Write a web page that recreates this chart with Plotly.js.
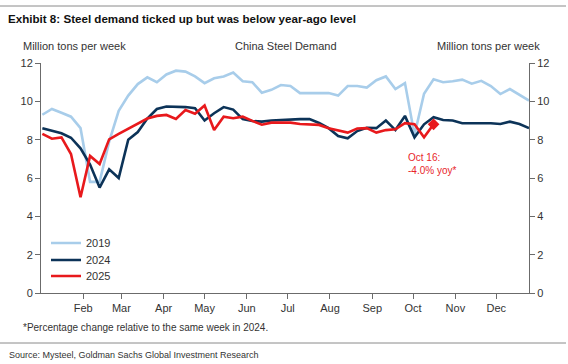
<!DOCTYPE html>
<html>
<head>
<meta charset="utf-8">
<script src="https://cdn.plot.ly/plotly-3.0.1.min.js"></script>
<style>html,body{margin:0;padding:0;background:#fff;}#chart{width:568px;height:364px;}</style>
</head>
<body>
<div id="chart"></div>
<script>
// Weekly dates (2025 calendar, first week Jan 2)
const startDate = '2025-01-02';
const weeks = 52;

const demand2019 = [9.3, 9.6, 9.4, 9.2, 8.6, 5.8, 5.8, 7.9, 9.5, 10.3,
  10.9, 11.25, 11.0, 11.4, 11.6, 11.55, 11.3, 10.95, 11.2, 11.3,
  11.5, 11.05, 11.0, 10.45, 10.6, 10.85, 10.8, 10.43, 10.43, 10.43,
  10.43, 10.3, 10.8, 10.8, 10.72, 11.1, 11.3, 10.64, 10.95, 8.25,
  10.4, 11.15, 11.0, 11.05, 11.13, 10.92, 11.07, 10.8, 10.38, 10.64,
  10.34, 10.04];

const demand2024 = [8.6, 8.48, 8.33, 8.1, 7.55, 6.7, 5.5, 6.45, 6.0, 8.0,
  8.4, 9.1, 9.6, 9.73, 9.73, 9.7, 9.64, 9.0, 9.38, 9.7,
  9.57, 9.07, 8.97, 8.94, 9.0, 9.03, 9.03, 9.07, 9.07, 8.87,
  8.6, 8.19, 8.07, 8.45, 8.62, 8.6, 9.0, 8.5, 9.24, 8.12,
  8.8, 9.17, 9.03, 9.0, 8.86, 8.86, 8.89, 8.86, 8.82, 8.94,
  8.82, 8.6];

const demand2025 = [8.3, 8.05, 8.12, 7.25, 5.0, 7.15, 6.73, 8.02, 8.3, 8.58,
  8.85, 9.1, 9.24, 9.29, 9.08, 9.55, 9.35, 9.78, 8.5, 9.2,
  9.12, 9.2, 8.98, 8.78, 8.89, 8.9, 8.89, 8.82, 8.8, 8.77,
  8.6, 8.5, 8.37, 8.58, 8.6, 8.37, 8.5, 8.54, 8.86, 8.8,
  8.12, 8.8];

const seriesNames = ['2019', '2024', '2025'];
const monthTickVals = ['2025-02-01','2025-03-01','2025-04-01','2025-05-01','2025-06-01','2025-07-01','2025-08-01','2025-09-01','2025-10-01','2025-11-01','2025-12-01'];
const monthTickText = ['Feb','Mar','Apr','May','Jun','Jul','Aug','Sep','Oct','Nov','Dec'];
const yTicks = [0, 2, 4, 6, 8, 10, 12];

function weekDates(n) {
  const out = [];
  const d0 = new Date(startDate + 'T00:00:00Z');
  for (let i = 0; i < n; i++) {
    const d = new Date(d0.getTime() + i * 7 * 86400000);
    out.push(d.toISOString().slice(0, 10));
  }
  return out;
}
const dates = weekDates(weeks);
const dates2025 = dates.slice(0, demand2025.length);
const lastDate = dates2025[dates2025.length - 1];
const lastVal = demand2025[demand2025.length - 1];

const traces = [
  {x: dates, y: demand2019, name: seriesNames[0], type: 'scatter', mode: 'lines', legend: 'legend',
   line: {color: '#a8cdea', width: 2.6}, hoverinfo: 'skip'},
  {x: dates, y: demand2024, name: seriesNames[1], type: 'scatter', mode: 'lines', legend: 'legend2',
   line: {color: '#0c3358', width: 2.6}, hoverinfo: 'skip'},
  {x: dates2025, y: demand2025, name: seriesNames[2], type: 'scatter', mode: 'lines', legend: 'legend3',
   line: {color: '#e8191c', width: 2.6}, hoverinfo: 'skip'},
  {x: [lastDate], y: [lastVal], type: 'scatter', mode: 'markers', showlegend: false,
   marker: {symbol: 'diamond', size: 9, color: '#e8191c'}, hoverinfo: 'skip'},
  {x: [lastDate], y: [lastVal], type: 'scatter', mode: 'markers', showlegend: false,
   yaxis: 'y2', marker: {size: 0, opacity: 0}, hoverinfo: 'skip'}
];

const axisCol = '#6b6b6b';
const tickFont = {family: 'Liberation Sans, Arial, sans-serif', size: 11, color: '#333'};
const L = 41, R = 39, T = 63, B = 71;
const W = 568, H = 364;
const pw = W - L - R, ph = H - T - B;
const px = v => (v - L) / pw;
const py = v => (H - B - v) / ph;

const legendFont = {family: 'Liberation Sans, Arial, sans-serif', size: 11, color: '#333'};
function legendAt(yCenter) {
  return {x: px(46), y: py(yCenter), xanchor: 'left', yanchor: 'middle',
    bgcolor: 'rgba(0,0,0,0)', font: legendFont};
}

const layout = {
  width: W, height: H,
  margin: {l: L, r: R, t: T, b: B},
  paper_bgcolor: '#fff', plot_bgcolor: '#fff',
  showlegend: true,
  title: {text: '<b>Exhibit 8: Steel demand ticked up but was below year-ago level</b>',
    xref: 'container', yref: 'container', x: 8 / W, y: 1 - 19 / H,
    xanchor: 'left', yanchor: 'middle',
    font: {family: 'Liberation Sans, Arial, sans-serif', size: 11.6, color: '#111'}},
  xaxis: {type: 'date', range: ['2025-01-01', '2025-12-25'],
    tickvals: monthTickVals, ticktext: monthTickText,
    ticks: 'outside', ticklen: 5, tickcolor: axisCol, tickwidth: 1,
    showline: true, linecolor: axisCol, linewidth: 1,
    showgrid: false, zeroline: false, tickfont: tickFont, fixedrange: true},
  yaxis: {range: [0, 12], tickvals: yTicks, ticks: 'outside', ticklen: 5,
    tickcolor: axisCol, showline: true, linecolor: axisCol, linewidth: 1,
    showgrid: false, zeroline: false, tickfont: tickFont, fixedrange: true},
  yaxis2: {range: [0, 12], tickvals: yTicks, ticks: 'outside', ticklen: 5,
    tickcolor: axisCol, showline: true, linecolor: axisCol, linewidth: 1,
    showgrid: false, zeroline: false, tickfont: tickFont, overlaying: 'y',
    side: 'right', fixedrange: true},
  legend: legendAt(243),
  legend2: legendAt(260),
  legend3: legendAt(276),
  shapes: [
    {type: 'line', xref: 'paper', yref: 'paper', x0: px(0), x1: px(566), y0: py(6), y1: py(6),
     line: {color: '#8a8a8a', width: 1}},
    {type: 'line', xref: 'paper', yref: 'paper', x0: px(0), x1: px(566), y0: py(343), y1: py(343),
     line: {color: '#8a8a8a', width: 1}}
  ],
  annotations: [
    {text: 'Million tons per week', xref: 'paper', yref: 'paper', x: px(74), y: py(46),
     xanchor: 'center', yanchor: 'middle', showarrow: false,
     font: {family: 'Liberation Sans, Arial, sans-serif', size: 11, color: '#333'}},
    {text: 'China Steel Demand', xref: 'paper', yref: 'paper', x: px(286), y: py(46),
     xanchor: 'center', yanchor: 'middle', showarrow: false,
     font: {family: 'Liberation Sans, Arial, sans-serif', size: 11, color: '#333'}},
    {text: 'Million tons per week', xref: 'paper', yref: 'paper', x: px(488), y: py(46),
     xanchor: 'center', yanchor: 'middle', showarrow: false,
     font: {family: 'Liberation Sans, Arial, sans-serif', size: 11, color: '#333'}},
    {text: 'Oct 16:<br>-4.0% yoy*', xref: 'x', yref: 'y', x: '2025-09-26', y: 6.75,
     xanchor: 'left', yanchor: 'middle', align: 'left', showarrow: false,
     font: {family: 'Liberation Sans, Arial, sans-serif', size: 10, color: '#e8262a'}},
    {text: '*Percentage change relative to the same week in 2024.', xref: 'paper', yref: 'paper',
     x: px(21), y: py(327), xanchor: 'left', yanchor: 'middle', showarrow: false,
     font: {family: 'Liberation Sans, Arial, sans-serif', size: 10, color: '#333'}},
    {text: 'Source: Mysteel, Goldman Sachs Global Investment Research', xref: 'paper', yref: 'paper',
     x: px(7), y: py(355), xanchor: 'left', yanchor: 'middle', showarrow: false,
     font: {family: 'Liberation Sans, Arial, sans-serif', size: 9, color: '#333'}}
  ]
};

Plotly.newPlot('chart', traces, layout, {displayModeBar: false, staticPlot: true});
</script>
</body>
</html>
